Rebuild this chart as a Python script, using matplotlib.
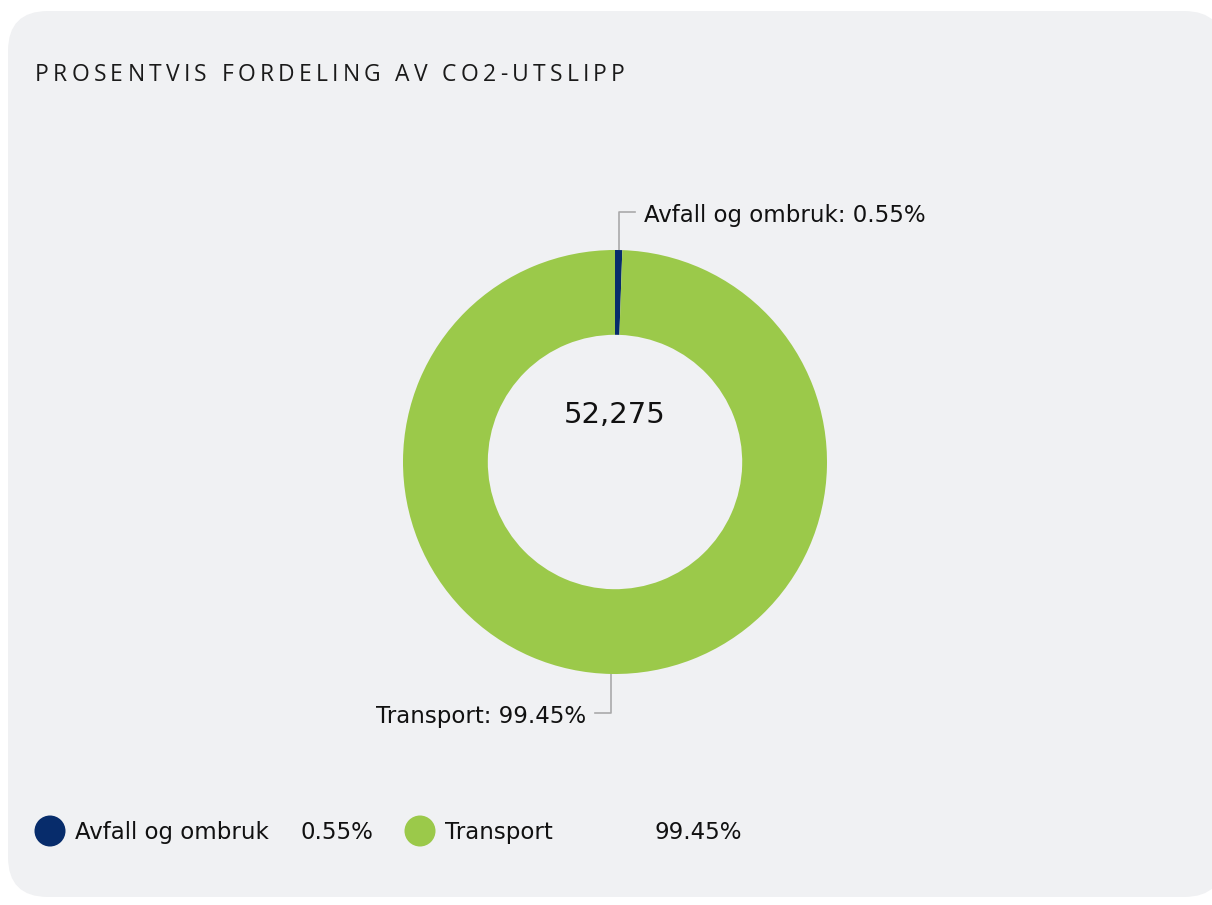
import numpy as np
import matplotlib
matplotlib.use('Agg')
import matplotlib.pyplot as plt
from matplotlib.patches import FancyBboxPatch, Ellipse
from matplotlib.font_manager import FontProperties

# data
categories = ['Avfall og ombruk', 'Transport']
shares = [0.55, 99.45]
total_label = '52,275'
colors = ['#072c6b', '#9bc94a']
title = 'PROSENTVIS FORDELING AV CO2-UTSLIPP'

W, H = 1212, 905
fig = plt.figure(figsize=(W / 100, H / 100), dpi=100, facecolor='white')

# background axes in pixel coordinates
bg = fig.add_axes([0, 0, 1, 1])
bg.set_xlim(0, W)
bg.set_ylim(H, 0)
bg.axis('off')
bg.add_patch(FancyBboxPatch((8, 11), 1216, 886, boxstyle='round,pad=0,rounding_size=40',
                            facecolor='#f0f1f3', edgecolor='none'))

# title with letter spacing
renderer = fig.canvas.get_renderer()
fp = FontProperties(family='Open Sans', size=16.5)
widths = [renderer.get_text_width_height_descent(c, fp, ismath=False)[0] for c in title]
spacing = (590 - sum(widths)) / (len(title) - 1)
x = 35
for c, w in zip(title, widths):
    bg.text(x, 75, c, fontproperties=fp, color='#1a1a1a', ha='left', va='center')
    x += w + spacing

# donut
cx, cy, R = 615, 462, 212
ax = fig.add_axes([(cx - R) / W, (H - cy - R) / H, 2 * R / W, 2 * R / H])
ax.pie(shares, colors=colors, startangle=90, counterclock=False, radius=1,
       wedgeprops=dict(width=0.4, linewidth=0))
ax.set_xlim(-1, 1)
ax.set_ylim(-1, 1)
ax.axis('off')

ax.text(0, 0.22, total_label, ha='center', va='center', fontsize=21, color='#111111')

# slice labels with leader lines
start = 90.0
for i, (cat, val) in enumerate(zip(categories, shares)):
    sweep = 360 * val / 100
    mid = np.deg2rad(start - sweep / 2)
    start -= sweep
    px = cx + R * np.cos(mid)
    py = cy - R * np.sin(mid)
    if np.sin(mid) > 0:
        y2 = py - 38
        bg.plot([px, px, px + 16], [py, y2, y2], color='#aaaaaa', lw=1.2)
        bg.text(px + 25, y2 + 3, f'{cat}: {val:.2f}%', ha='left', va='center',
                fontsize=16.5, color='#111111')
    else:
        y2 = py + 39
        bg.plot([px, px, px - 16], [py, y2, y2], color='#aaaaaa', lw=1.2)
        bg.text(px - 25, y2 + 4, f'{cat}: {val:.2f}%', ha='right', va='center',
                fontsize=16.5, color='#111111')

# legend
leg_x = [50, 420]
val_x = [300, 655]
for i, (cat, val) in enumerate(zip(categories, shares)):
    bg.add_patch(Ellipse((leg_x[i], 831), 31, 31, facecolor=colors[i], edgecolor='none'))
    bg.text(leg_x[i] + 25, 832, cat, ha='left', va='center', fontsize=16.5, color='#111111')
    bg.text(val_x[i], 832, f'{val:.2f}%', ha='left', va='center', fontsize=16.5, color='#111111')

fig.savefig('out.png', dpi=100, facecolor='white')
